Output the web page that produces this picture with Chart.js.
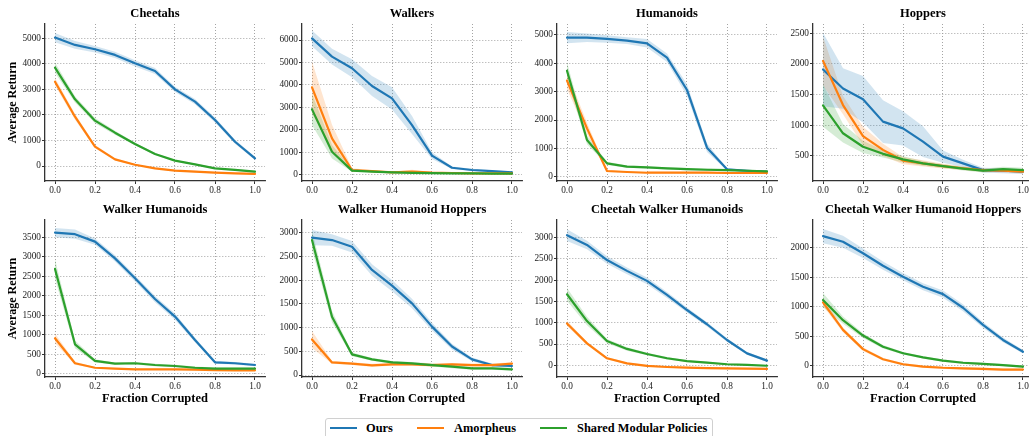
<!DOCTYPE html>
<html>
<head>
<meta charset="utf-8">
<script src="https://cdn.jsdelivr.net/npm/chart.js@4.4.1/dist/chart.umd.min.js"></script>
<style>
html,body{margin:0;padding:0;background:#fff;}
body{width:1029px;height:436px;overflow:hidden;position:relative;font-family:"Liberation Serif","DejaVu Serif",serif;}
canvas{position:absolute;}
#legend{position:absolute;left:325px;top:418px;width:388px;height:24px;border:1px solid #d0d0d0;border-radius:3px;box-sizing:border-box;background:#fff;}
.lg-line{position:absolute;height:2.2px;width:27px;top:8px;}
.lg-text{position:absolute;top:1px;font-weight:bold;font-size:12.4px;line-height:16px;color:#000;white-space:nowrap;}
</style>
</head>
<body>
<div id="legend">
  <div class="lg-line" style="left:4px;background:#1f77b4"></div><div class="lg-text" style="left:40px">Ours</div>
  <div class="lg-line" style="left:91px;background:#ff7f0e"></div><div class="lg-text" style="left:128px">Amorpheus</div>
  <div class="lg-line" style="left:214px;background:#2ca02c"></div><div class="lg-text" style="left:251px">Shared Modular Policies</div>
</div>
<script>
// ---------- data ----------
const fractions = [0, 0.1, 0.2, 0.3, 0.4, 0.5, 0.6, 0.7, 0.8, 0.9, 1.0];
const xTicks = [0, 0.2, 0.4, 0.6, 0.8, 1.0];
const seriesNames = ['Ours', 'Amorpheus', 'Shared Modular Policies'];
const seriesColors = ['#1f77b4', '#ff7f0e', '#2ca02c'];

// Cheetahs
const cheetahsOurs = [5030, 4740, 4570, 4350, 4020, 3720, 3000, 2520, 1800, 950, 300];
const cheetahsOursStd = [180, 150, 130, 120, 120, 120, 100, 100, 100, 80, 60];
const cheetahsAmor = [3300, 1930, 760, 260, 50, -90, -180, -220, -260, -285, -310];
const cheetahsAmorStd = [150, 120, 60, 40, 30, 30, 30, 30, 30, 30, 30];
const cheetahsSmp = [3850, 2610, 1775, 1305, 860, 470, 210, 65, -90, -155, -220];
const cheetahsSmpStd = [200, 120, 100, 80, 50, 40, 30, 30, 30, 30, 30];
const cheetahsYTicks = [0, 1000, 2000, 3000, 4000, 5000];

// Walkers
const walkersOurs = [6070, 5260, 4740, 3950, 3400, 2210, 850, 310, 210, 160, 105];
const walkersOursStd = [350, 350, 400, 450, 500, 400, 150, 60, 50, 40, 40];
const walkersAmor = [3890, 1620, 210, 160, 105, 135, 90, 75, 60, 60, 60];
const walkersAmorStd = [1150, 600, 80, 40, 30, 80, 30, 30, 30, 30, 30];
const walkersSmp = [2910, 1025, 180, 135, 105, 80, 70, 60, 55, 50, 50];
const walkersSmpStd = [700, 300, 50, 30, 30, 30, 30, 20, 20, 20, 20];
const walkersYTicks = [0, 1000, 2000, 3000, 4000, 5000, 6000];

// Humanoids
const humanoidsOurs = [4905, 4905, 4860, 4800, 4705, 4200, 3060, 1025, 260, 210, 175];
const humanoidsOursStd = [200, 150, 130, 120, 150, 150, 200, 150, 40, 30, 30];
const humanoidsAmor = [3390, 1705, 200, 165, 140, 140, 140, 140, 130, 130, 130];
const humanoidsAmorStd = [300, 200, 40, 30, 30, 30, 30, 30, 30, 30, 30];
const humanoidsSmp = [3740, 1295, 470, 355, 330, 295, 270, 245, 235, 210, 190];
const humanoidsSmpStd = [300, 150, 60, 40, 40, 40, 40, 40, 40, 40, 30];
const humanoidsYTicks = [0, 1000, 2000, 3000, 4000, 5000];

// Hoppers
const hoppersOurs = [1910, 1600, 1425, 1060, 950, 735, 490, 380, 270, 260, 245];
const hoppersOursStd = [600, 330, 380, 350, 280, 250, 100, 60, 40, 40, 40];
const hoppersAmor = [2050, 1330, 825, 600, 425, 380, 335, 300, 270, 260, 245];
const hoppersAmorStd = [400, 150, 150, 100, 60, 50, 40, 30, 30, 30, 30];
const hoppersSmp = [1325, 870, 650, 535, 445, 380, 335, 295, 260, 285, 270];
const hoppersSmpStd = [350, 150, 100, 60, 50, 40, 30, 30, 30, 40, 40];
const hoppersYTicks = [500, 1000, 1500, 2000, 2500];

// Walker Humanoids
const walkerHumanoidsOurs = [3620, 3580, 3390, 2960, 2450, 1920, 1470, 870, 300, 275, 230];
const walkerHumanoidsOursStd = [120, 120, 80, 80, 80, 80, 80, 60, 40, 30, 30];
const walkerHumanoidsAmor = [915, 275, 160, 135, 120, 120, 120, 110, 100, 95, 95];
const walkerHumanoidsAmorStd = [120, 40, 20, 20, 20, 20, 20, 20, 20, 20, 20];
const walkerHumanoidsSmp = [2690, 760, 335, 265, 275, 230, 205, 160, 135, 135, 135];
const walkerHumanoidsSmpStd = [250, 100, 40, 30, 30, 30, 30, 30, 30, 30, 30];
const walkerHumanoidsYTicks = [0, 500, 1000, 1500, 2000, 2500, 3000, 3500];

// Walker Humanoid Hoppers
const whhOurs = [2895, 2845, 2705, 2215, 1885, 1510, 1020, 600, 330, 210, 190];
const whhOursStd = [160, 120, 120, 120, 120, 100, 80, 60, 40, 30, 30];
const whhAmor = [750, 265, 240, 205, 225, 225, 210, 225, 210, 210, 240];
const whhAmorStd = [180, 30, 30, 30, 30, 30, 30, 30, 30, 30, 30];
const whhSmp = [2845, 1230, 435, 330, 265, 245, 210, 175, 140, 140, 120];
const whhSmpStd = [200, 120, 40, 30, 30, 30, 30, 30, 30, 30, 30];
const whhYTicks = [0, 500, 1000, 1500, 2000, 2500, 3000];

// Cheetah Walker Humanoids
const cwhOurs = [3060, 2830, 2475, 2220, 1985, 1655, 1300, 965, 595, 280, 110];
const cwhOursStd = [140, 100, 90, 80, 80, 70, 60, 50, 40, 30, 30];
const cwhAmor = [985, 515, 165, 45, -15, -40, -55, -65, -70, -80, -85];
const cwhAmorStd = [60, 40, 30, 20, 20, 20, 20, 20, 20, 20, 20];
const cwhSmp = [1670, 1040, 570, 385, 265, 165, 100, 65, 25, 10, -10];
const cwhSmpStd = [150, 100, 50, 40, 30, 30, 20, 20, 20, 20, 20];
const cwhYTicks = [0, 500, 1000, 1500, 2000, 2500, 3000];

// Cheetah Walker Humanoid Hoppers
const cwhhOurs = [2195, 2100, 1905, 1695, 1510, 1340, 1215, 985, 695, 440, 240];
const cwhhOursStd = [120, 100, 80, 70, 60, 60, 60, 60, 50, 40, 30];
const cwhhAmor = [1075, 610, 285, 115, 30, -10, -30, -40, -50, -60, -60];
const cwhhAmorStd = [60, 40, 30, 20, 20, 20, 20, 20, 20, 20, 20];
const cwhhSmp = [1115, 775, 515, 325, 215, 145, 90, 55, 35, 15, -10];
const cwhhSmpStd = [120, 60, 40, 30, 20, 20, 20, 20, 20, 20, 20];
const cwhhYTicks = [0, 500, 1000, 1500, 2000];

// ---------- panels (built from the arrays above) ----------
const panels = [
  {title: 'Cheetahs', s: [[cheetahsOurs, cheetahsOursStd], [cheetahsAmor, cheetahsAmorStd], [cheetahsSmp, cheetahsSmpStd]], yTicks: cheetahsYTicks, yMin: -587, yMax: 5560},
  {title: 'Walkers', s: [[walkersOurs, walkersOursStd], [walkersAmor, walkersAmorStd], [walkersSmp, walkersSmpStd]], yTicks: walkersYTicks, yMin: -281, yMax: 6713},
  {title: 'Humanoids', s: [[humanoidsOurs, humanoidsOursStd], [humanoidsAmor, humanoidsAmorStd], [humanoidsSmp, humanoidsSmpStd]], yTicks: humanoidsYTicks, yMin: -152, yMax: 5388},
  {title: 'Hoppers', s: [[hoppersOurs, hoppersOursStd], [hoppersAmor, hoppersAmorStd], [hoppersSmp, hoppersSmpStd]], yTicks: hoppersYTicks, yMin: 92, yMax: 2652},
  {title: 'Walker Humanoids', s: [[walkerHumanoidsOurs, walkerHumanoidsOursStd], [walkerHumanoidsAmor, walkerHumanoidsAmorStd], [walkerHumanoidsSmp, walkerHumanoidsSmpStd]], yTicks: walkerHumanoidsYTicks, yMin: -77, yMax: 3943},
  {title: 'Walker Humanoid Hoppers', s: [[whhOurs, whhOursStd], [whhAmor, whhAmorStd], [whhSmp, whhSmpStd]], yTicks: whhYTicks, yMin: -42, yMax: 3268},
  {title: 'Cheetah Walker Humanoids', s: [[cwhOurs, cwhOursStd], [cwhAmor, cwhAmorStd], [cwhSmp, cwhSmpStd]], yTicks: cwhYTicks, yMin: -275, yMax: 3416},
  {title: 'Cheetah Walker Humanoid Hoppers', s: [[cwhhOurs, cwhhOursStd], [cwhhAmor, cwhhAmorStd], [cwhhSmp, cwhhSmpStd]], yTicks: cwhhYTicks, yMin: -186, yMax: 2468}
];

const FONT = '"Liberation Serif", "DejaVu Serif", serif';
Chart.defaults.font.family = FONT;
Chart.defaults.color = '#222';

function rgba(hex, a) {
  const n = parseInt(hex.slice(1), 16);
  return `rgba(${(n >> 16) & 255},${(n >> 8) & 255},${n & 255},${a})`;
}

const axisX = [45, 302, 557, 813];
const rowTop = [24, 220];
const rowBottom = [181, 377];
const Y_AXIS_W = 45, TITLE_H = 24, X_AXIS_H = 30, PLOT_W = 220, RIGHT_PAD = 5;

const gridOpts = {color: '#9a9a9a', lineWidth: 0.9, tickColor: '#333', tickLength: 3, tickWidth: 1};
const borderOpts = {display: true, color: '#333', width: 1.3, dash: [1, 2]};

panels.forEach((p, i) => {
  const col = i % 4, row = Math.floor(i / 4);
  const W = Y_AXIS_W + PLOT_W + RIGHT_PAD;
  const H = TITLE_H + (rowBottom[row] - rowTop[row]) + X_AXIS_H;
  const cv = document.createElement('canvas');
  cv.width = W; cv.height = H;
  cv.style.width = W + 'px'; cv.style.height = H + 'px';
  cv.style.left = (axisX[col] - Y_AXIS_W) + 'px';
  cv.style.top = (rowTop[row] - TITLE_H) + 'px';
  document.body.appendChild(cv);

  const datasets = [];
  p.s.forEach((s, k) => {
    const [mean, std] = s;
    datasets.push({
      label: seriesNames[k] + ' upper',
      data: fractions.map((x, j) => ({x, y: mean[j] + std[j]})),
      borderWidth: 0, borderColor: 'transparent', pointRadius: 0,
      backgroundColor: rgba(seriesColors[k], 0.2), fill: '+1', order: 20 + k
    });
    datasets.push({
      label: seriesNames[k] + ' lower',
      data: fractions.map((x, j) => ({x, y: mean[j] - std[j]})),
      borderWidth: 0, borderColor: 'transparent', pointRadius: 0, fill: false, order: 20 + k
    });
  });
  p.s.forEach((s, k) => {
    datasets.push({
      label: seriesNames[k],
      data: fractions.map((x, j) => ({x, y: s[0][j]})),
      borderColor: seriesColors[k], borderWidth: 2.2, pointRadius: 0, fill: false,
      order: 3 - k, borderJoinStyle: 'round', borderCapStyle: 'round'
    });
  });

  new Chart(cv, {
    type: 'line',
    data: {datasets},
    options: {
      responsive: false, animation: false, devicePixelRatio: 1,
      layout: {padding: {top: TITLE_H, right: RIGHT_PAD, left: 0, bottom: 0}},
      plugins: {legend: {display: false}, tooltip: {enabled: false}},
      scales: {
        x: {
          type: 'linear', min: -0.05, max: 1.05,
          afterBuildTicks: sc => { sc.ticks = xTicks.map(v => ({value: v})); },
          afterFit: sc => { sc.height = X_AXIS_H; },
          ticks: {callback: v => Number(v).toFixed(1), font: {size: 9.3, family: FONT}, color: '#222', padding: 1, maxRotation: 0, autoSkip: false},
          grid: gridOpts, border: borderOpts,
          title: {display: row === 1, text: 'Fraction Corrupted', color: '#000', font: {size: 12.5, weight: 'bold', family: FONT}, padding: {top: 0, bottom: 0.5}}
        },
        y: {
          type: 'linear', min: p.yMin, max: p.yMax,
          afterBuildTicks: sc => { sc.ticks = p.yTicks.map(v => ({value: v})); },
          afterFit: sc => { sc.width = Y_AXIS_W; },
          ticks: {callback: v => String(v), font: {size: 9.3, family: FONT}, color: '#222', padding: 1},
          grid: gridOpts, border: borderOpts,
          title: {display: col === 0, text: 'Average Return', color: '#000', font: {size: 12, weight: 'bold', family: FONT}, padding: {top: 5.5, bottom: 0}}
        }
      }
    },
    plugins: [{
      id: 'panelTitle',
      afterDraw(chart) {
        const {ctx, chartArea: a} = chart;
        ctx.save();
        ctx.font = 'bold 12.5px ' + FONT;
        ctx.fillStyle = '#000';
        ctx.textAlign = 'center';
        ctx.textBaseline = 'middle';
        ctx.fillText(p.title, (a.left + a.right) / 2, a.top - 10);
        ctx.restore();
      }
    }]
  });
});
</script>
</body>
</html>
